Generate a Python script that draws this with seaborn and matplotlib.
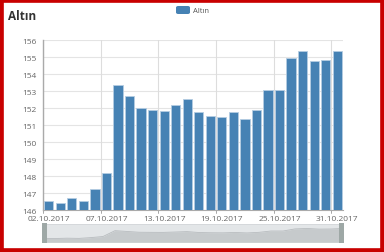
import matplotlib
matplotlib.use("Agg")
import matplotlib.pyplot as plt
import seaborn as sns
import pandas as pd
import numpy as np
from matplotlib.patches import Rectangle, FancyBboxPatch

dates = ["02.10.2017", "03.10.2017", "04.10.2017", "05.10.2017", "06.10.2017", "07.10.2017",
         "09.10.2017", "10.10.2017", "11.10.2017", "12.10.2017", "13.10.2017", "14.10.2017",
         "16.10.2017", "17.10.2017", "18.10.2017", "19.10.2017", "20.10.2017", "21.10.2017",
         "23.10.2017", "24.10.2017", "25.10.2017", "26.10.2017", "27.10.2017", "28.10.2017",
         "30.10.2017", "31.10.2017"]
values = [146.55, 146.39, 146.69, 146.51, 147.22, 148.19, 153.37, 152.68, 151.98, 151.88,
          151.84, 152.17, 152.55, 151.74, 151.53, 151.45, 151.78, 151.37, 151.90, 153.07,
          153.07, 154.93, 155.34, 154.75, 154.85, 155.34]
series_name = "Altın"
y_ticks = [146, 147, 148, 149, 150, 151, 152, 153, 154, 155, 156]

df = pd.DataFrame({"date": dates, "value": values})

sns.set_style("white")
plt.rcParams['font.family'] = ['Open Sans', 'DejaVu Sans']

W, H = 384, 253
fig = plt.figure(figsize=(W / 100, H / 100), dpi=100)
fig.patch.set_facecolor("white")

def fr(x0, y0, x1, y1):
    return [x0 / W, 1 - y1 / H, (x1 - x0) / W, (y1 - y0) / H]

ax = fig.add_axes(fr(43, 41, 343, 211))
bar_color = "#4682b4"
sns.barplot(data=df, x="date", y="value", color=bar_color, width=0.8, ax=ax,
            saturation=1, edgecolor="#b5cde2", linewidth=0.6, zorder=3)
ax.set_ylim(146, 156)
ax.set_xlim(-0.5, len(dates) - 0.5)
ax.set_yticks(y_ticks)
ax.set_yticklabels([str(t) for t in y_ticks])
tick_idx = list(range(0, len(dates), 5))
ax.set_xticks(tick_idx)
ax.set_xticklabels([dates[i] for i in tick_idx])
ax.set_xlabel("")
ax.set_ylabel("")
ax.tick_params(axis="y", labelsize=6.0, colors="#666666", length=3, width=0.6, pad=1.5)
ax.tick_params(axis="x", labelsize=6.0, colors="#666666", length=0, pad=3.5)
for lab in ax.get_xticklabels() + ax.get_yticklabels():
    lab.set_color("#666666")
# horizontal gridlines
for t in y_ticks:
    ax.axhline(t, color="#e4e4e4", lw=0.8, zorder=0)
# vertical gridlines at band boundaries
for i in tick_idx:
    ax.axvline(i - 0.5, color="#dddddd", lw=0.8, zorder=0)
    ax.plot([i - 0.5, i - 0.5], [146, 145.85], color="#999999", lw=0.6, clip_on=False)
for s in ["top", "right"]:
    ax.spines[s].set_visible(False)
ax.spines["left"].set_color("#aaaaaa")
ax.spines["left"].set_linewidth(1.0)
ax.spines["bottom"].set_color("#aaaaaa")
ax.spines["bottom"].set_linewidth(0.8)

# data zoom slider
sax = fig.add_axes(fr(43, 225, 343, 243))
xs = np.arange(len(values))
sax.set_facecolor("#e3e6e8")
sax.fill_between(xs, 0, values, color="#c6cacc", lw=0)
sax.plot(xs, values, color="#b8bcbf", lw=0.6)
sax.set_xlim(0, len(values) - 1)
sax.set_ylim(143.3, 159.3)
sax.set_xticks([])
sax.set_yticks([])
for s in sax.spines.values():
    s.set_color("#d0d3d6")
    s.set_linewidth(0.5)
fig.add_artist(Rectangle((42 / W, 1 - 244 / H), 5 / W, 20 / H, transform=fig.transFigure,
                         facecolor="#9ea8a6", edgecolor="none"))
fig.add_artist(Rectangle((339 / W, 1 - 244 / H), 5 / W, 20 / H, transform=fig.transFigure,
                         facecolor="#9ea8a6", edgecolor="none"))

# title
fig.text(8 / W, 1 - 17 / H, "Altın", fontsize=8.5, fontweight="bold", color="#333333",
         va="center", ha="left")
# legend
fig.add_artist(FancyBboxPatch((176 / W, 1 - 15 / H), 14 / W, 8 / H, transform=fig.transFigure,
                              boxstyle="round,pad=0,rounding_size=0.006",
                              facecolor=bar_color, edgecolor="none"))
fig.text(193 / W, 1 - 11.5 / H, series_name, fontsize=5.5, color="#555555", va="center", ha="left")

# red border
fig.add_artist(Rectangle((0, 0), 1, 1, transform=fig.transFigure, facecolor="none",
                         edgecolor="#c80000", linewidth=5.5))

fig.savefig("out.png", dpi=100)
